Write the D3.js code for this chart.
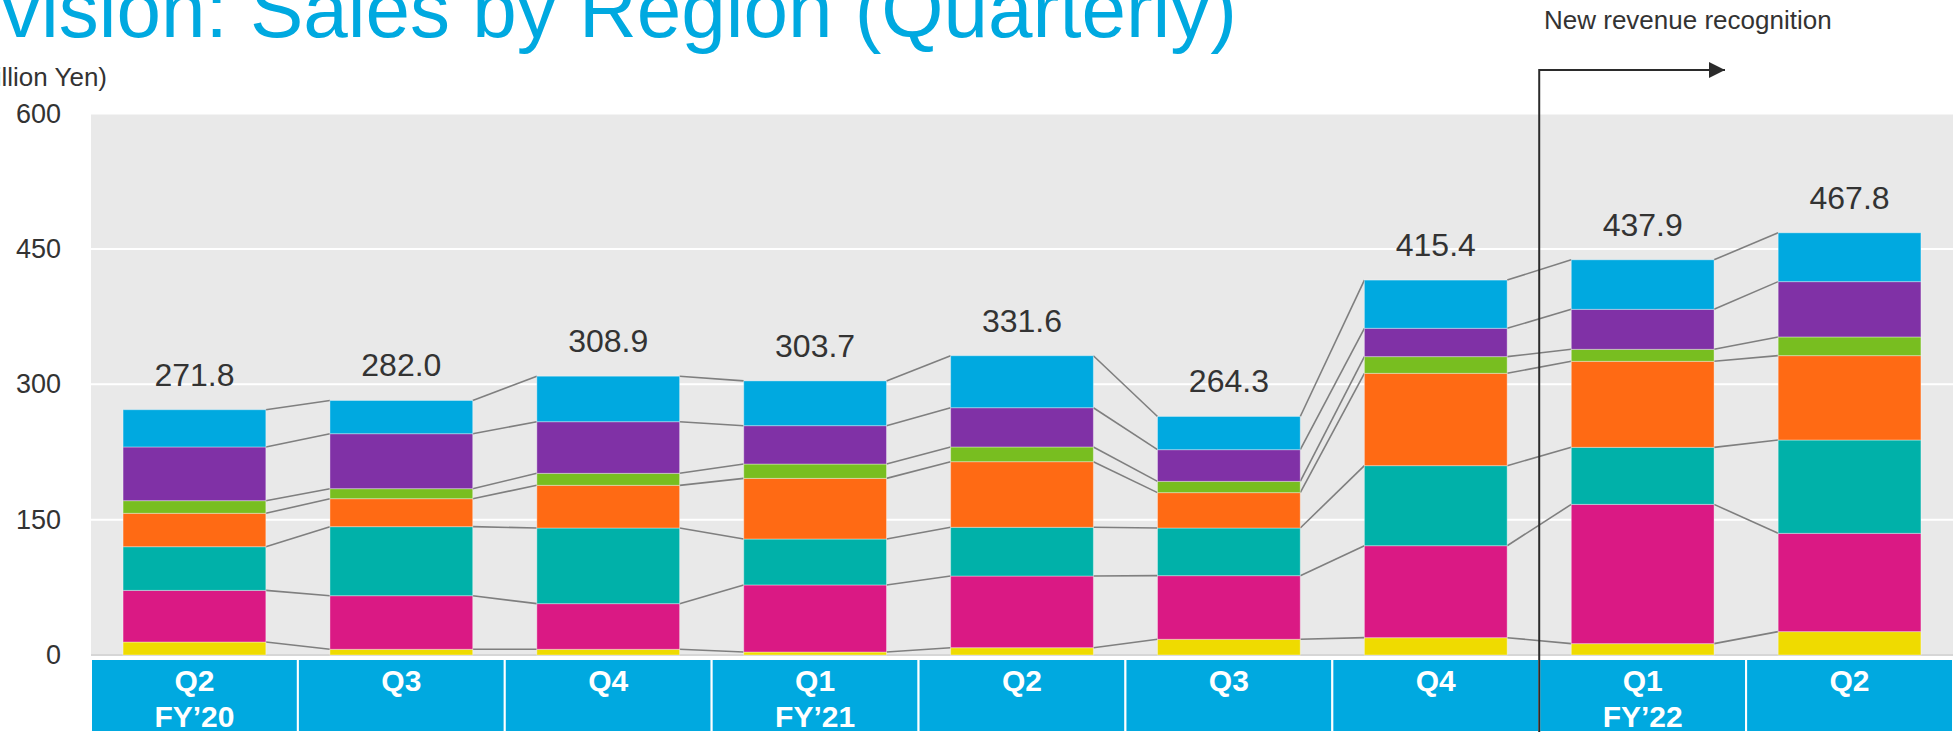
<!DOCTYPE html>
<html>
<head>
<meta charset="utf-8">
<script src="https://cdn.jsdelivr.net/npm/d3@7"></script>
<style>
	html, body { margin: 0; padding: 0; background: #fff; overflow: hidden; }
	svg { display: block; font-family: Arial, 'Liberation Sans', sans-serif; }
</style>
</head>
<body>
<svg id="chart" width="1960" height="732"></svg>
<script>
const quarters = ['Q2', 'Q3', 'Q4', 'Q1', 'Q2', 'Q3', 'Q4', 'Q1', 'Q2'];
const fiscalYears = ['FY’20', '', '', 'FY’21', '', '', '', 'FY’22', ''];
const totals = [271.8, 282.0, 308.9, 303.7, 331.6, 264.3, 415.4, 437.9, 467.8];

// stacked from the bottom up
const yellowSeries = [14.4, 6.3, 6.3, 3.3, 8.1, 17.4, 19.2, 12.6, 25.9];
const magentaSeries = [57.2, 59.4, 50.6, 74.3, 79.4, 70.5, 101.9, 154.3, 108.9];
const tealSeries = [48.4, 76.5, 83.8, 50.9, 54.0, 52.8, 88.7, 63.2, 103.4];
const orangeSeries = [37.0, 31.0, 47.3, 67.2, 72.7, 39.2, 102.3, 95.3, 93.5];
const greenSeries = [14.0, 11.1, 13.3, 15.9, 16.3, 12.5, 18.5, 13.3, 20.7];
const purpleSeries = [59.5, 60.9, 57.2, 42.5, 43.5, 35.1, 31.4, 44.3, 61.3];
const blueSeries = [41.3, 36.8, 50.4, 49.6, 57.6, 36.8, 53.4, 54.9, 54.1];

const yTicks = [0, 150, 300, 450, 600];

const seriesKeys = ['yellow', 'magenta', 'teal', 'orange', 'green', 'purple', 'blue'];
const seriesColors = ['#efdb00', '#da1984', '#00b1a9', '#ff6a14', '#78be20', '#8031a6', '#00a9e0'];
const seriesValues = [yellowSeries, magentaSeries, tealSeries, orangeSeries, greenSeries, purpleSeries, blueSeries];

const rows = quarters.map((q, i) => {
	const row = { id: i, quarter: q, fy: fiscalYears[i], total: totals[i] };
	seriesKeys.forEach((k, j) => { row[k] = seriesValues[j][i] });
	return row
});

const svg = d3.select('#chart');

const plot = { left: 91, right: 1953, top: 113.5, bottom: 655 };

const x = d3.scaleBand()
	.domain(rows.map(d => d.id))
	.range([plot.left, plot.right])
	.paddingInner(0.31)
	.paddingOuter(0.155);

const step = x.step();

const y = d3.scaleLinear()
	.domain([0, 600])
	.range([plot.bottom, plot.top]);

const color = d3.scaleOrdinal()
	.domain(seriesKeys)
	.range(seriesColors);

const stacked = d3.stack().keys(seriesKeys)(rows);

// title, cropped at the top edge like the slide
svg.append('text')
	.attr('x', 1237)
	.attr('y', 37)
	.attr('text-anchor', 'end')
	.attr('fill', '#00a9e0')
	.attr('font-size', 80)
	.text('Division: Sales by Region (Quarterly)');

svg.append('text')
	.attr('x', 107)
	.attr('y', 86)
	.attr('text-anchor', 'end')
	.attr('fill', '#333')
	.attr('font-size', 26)
	.text('(Billion Yen)');

// plot background + grid
svg.append('rect')
	.attr('x', plot.left)
	.attr('y', plot.top)
	.attr('width', plot.right - plot.left)
	.attr('height', plot.bottom - plot.top + 1)
	.attr('fill', '#e9e9e9');

svg.append('g')
	.selectAll('line')
	.data(yTicks)
	.join('line')
	.attr('x1', plot.left)
	.attr('x2', plot.right)
	.attr('y1', d => y(d))
	.attr('y2', d => y(d))
	.attr('stroke', d => d === 0 ? '#d6d6d6' : '#fff')
	.attr('stroke-width', 2);

const yAxis = svg.append('g')
	.attr('transform', 'translate(61,0)')
	.call(d3.axisLeft(y).tickValues(yTicks).tickSize(0).tickPadding(0));

yAxis.select('.domain').remove();
yAxis.selectAll('text')
	.attr('fill', '#333')
	.attr('font-size', 27)
	.attr('font-family', null);

// connector lines between neighbouring bars
const links = [];
stacked.forEach(layer => {
	for (let i = 0; i < layer.length - 1; i++) {
		links.push({
			x1: x(i) + x.bandwidth(),
			y1: y(layer[i][1]),
			x2: x(i + 1),
			y2: y(layer[i + 1][1]),
		})
	}
});

svg.append('g').classed('links', true)
	.selectAll('line')
	.data(links)
	.join('line')
	.attr('x1', d => d.x1)
	.attr('y1', d => d.y1)
	.attr('x2', d => d.x2)
	.attr('y2', d => d.y2)
	.attr('stroke', '#7f7f7f')
	.attr('stroke-width', 1.6);

svg.append('g').classed('bars', true)
	.selectAll('g')
	.data(stacked)
	.join('g')
	.attr('fill', d => color(d.key))
	.selectAll('rect')
	.data(d => d)
	.join('rect')
	.attr('x', (d, i) => x(i))
	.attr('y', d => y(d[1]))
	.attr('width', x.bandwidth())
	.attr('height', d => y(d[0]) - y(d[1]))
	.attr('stroke', 'rgba(255,255,255,0.35)')
	.attr('stroke-width', 1);

svg.append('g').classed('totals', true)
	.selectAll('text')
	.data(rows)
	.join('text')
	.attr('x', d => x(d.id) + x.bandwidth() / 2)
	.attr('y', d => y(d.total) - 24)
	.attr('text-anchor', 'middle')
	.attr('fill', '#333')
	.attr('font-size', 32)
	.text(d => d.total.toFixed(1));

// category band
const band = svg.append('g').classed('band', true);
const bandTop = 659;

band.selectAll('rect')
	.data(rows)
	.join('rect')
	.attr('x', d => x(d.id) - step * x.paddingInner() / 2)
	.attr('y', bandTop)
	.attr('width', step)
	.attr('height', 732 - bandTop)
	.attr('fill', '#00a9e0')
	.attr('stroke', '#fff')
	.attr('stroke-width', 2);

band.selectAll('text.q')
	.data(rows)
	.join('text')
	.classed('q', true)
	.attr('x', d => x(d.id) + x.bandwidth() / 2)
	.attr('y', 691)
	.attr('text-anchor', 'middle')
	.attr('fill', '#fff')
	.attr('font-weight', 700)
	.attr('font-size', 30)
	.text(d => d.quarter);

band.selectAll('text.fy')
	.data(rows.filter(d => d.fy))
	.join('text')
	.classed('fy', true)
	.attr('x', d => x(d.id) + x.bandwidth() / 2)
	.attr('y', 727)
	.attr('text-anchor', 'middle')
	.attr('fill', '#fff')
	.attr('font-weight', 700)
	.attr('font-size', 30)
	.text(d => d.fy);

// revenue recognition marker between Q4 FY'21 and Q1 FY'22
const markX = (x(6) + x.bandwidth() + x(7)) / 2;
const markY = 70;

svg.append('defs').append('marker')
	.attr('id', 'arrowHead')
	.attr('viewBox', '0 0 16 16')
	.attr('refX', 16)
	.attr('refY', 8)
	.attr('markerWidth', 16)
	.attr('markerHeight', 16)
	.attr('markerUnits', 'userSpaceOnUse')
	.attr('orient', 'auto')
	.append('path')
	.attr('d', 'M0,0 L16,8 L0,16 Z')
	.attr('fill', '#2b2b2b');

svg.append('path')
	.attr('d', `M${markX},732 V${markY} H1725`)
	.attr('fill', 'none')
	.attr('stroke', '#2b2b2b')
	.attr('stroke-width', 2)
	.attr('marker-end', 'url(#arrowHead)');

svg.append('text')
	.attr('x', 1544)
	.attr('y', 29)
	.attr('fill', '#333')
	.attr('font-size', 26)
	.text('New revenue recognition');
</script>
</body>
</html>
